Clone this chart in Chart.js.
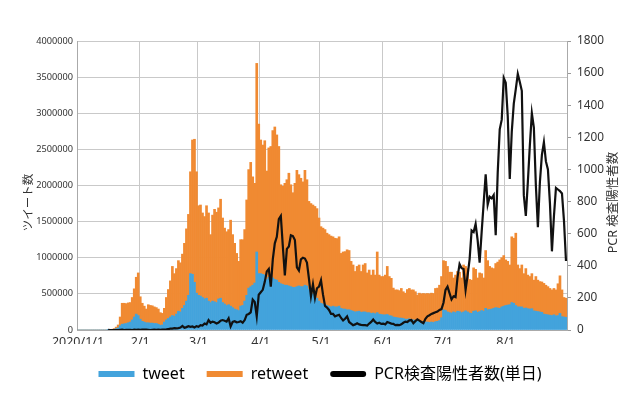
<!DOCTYPE html>
<html>
<head>
<meta charset="utf-8">
<script src="https://cdn.jsdelivr.net/npm/chart.js@4.4.1/dist/chart.umd.min.js"></script>
<style>
  html, body { margin: 0; padding: 0; background: #fff; }
</style>
</head>
<body>
<canvas id="chart" width="640" height="400"></canvas>
<script>
// days per month, Jan-Aug 2020 (leap year)
const monthDays = [31, 29, 31, 30, 31, 30, 31, 31];
const monthTickLabels = ['2020/1/1', '2/1', '3/1', '4/1', '5/1', '6/1', '7/1', '8/1'];

// daily tweets (blue)
const tweet = [
  0,0,0,0,0,0,0,0,0,0,0,0,0,0,0,1000,3000,5000,10000,20000,30000,60000,80000,85000,90000,100000,110000,140000,180000,220000,200000,
  150000,120000,110000,100000,100000,95000,95000,90000,90000,80000,65000,70000,110000,140000,160000,180000,200000,190000,220000,260000,250000,300000,340000,400000,480000,780000,770000,660000,510000,
  480000,470000,450000,430000,440000,400000,380000,400000,390000,380000,430000,440000,380000,360000,340000,350000,330000,310000,290000,280000,270000,330000,340000,400000,480000,580000,600000,620000,650000,1080000,780000,
  780000,770000,760000,700000,730000,740000,720000,700000,690000,660000,640000,630000,620000,620000,610000,600000,590000,590000,600000,610000,600000,600000,620000,610000,560000,530000,500000,470000,440000,400000,
  370000,360000,350000,340000,330000,320000,330000,320000,320000,330000,300000,290000,290000,280000,280000,270000,260000,250000,255000,260000,245000,250000,250000,240000,240000,230000,235000,225000,240000,220000,215000,
  210000,210000,215000,200000,195000,180000,175000,170000,165000,165000,160000,150000,150000,155000,145000,140000,135000,125000,120000,115000,115000,110000,110000,105000,110000,105000,115000,120000,130000,170000,
  280000,270000,250000,240000,235000,250000,240000,260000,255000,240000,250000,265000,250000,235000,230000,260000,265000,245000,255000,270000,260000,300000,280000,285000,290000,300000,310000,305000,300000,320000,330000,
  340000,345000,350000,380000,370000,340000,320000,320000,320000,300000,305000,295000,290000,295000,265000,260000,255000,250000,245000,220000,215000,210000,205000,200000,210000,195000,200000,230000,185000,180000,175000
];

// daily retweets (orange, stacked on tweets)
const retweet = [
  0,0,0,0,0,0,0,0,0,0,0,0,0,0,0,2000,3000,5000,10000,20000,40000,120000,290000,285000,275000,275000,270000,310000,390000,510000,590000,
  310000,250000,220000,190000,250000,245000,240000,230000,220000,210000,175000,160000,190000,310000,400000,500000,680000,590000,630000,700000,680000,750000,860000,1000000,1120000,1410000,1860000,1980000,1680000,
  1240000,1260000,1170000,1140000,1280000,1220000,940000,1190000,1280000,1250000,1260000,1370000,1170000,1050000,1020000,1040000,1190000,1010000,910000,780000,680000,920000,910000,990000,1320000,1640000,1720000,1500000,1380000,2610000,2070000,
  1850000,1790000,1860000,1500000,1790000,1800000,2040000,2110000,2010000,1880000,1370000,1360000,1410000,1460000,1560000,1410000,1310000,1440000,1610000,1540000,1500000,1450000,1590000,1470000,1220000,1220000,1230000,1240000,1240000,1150000,
  1060000,1050000,1040000,1000000,990000,980000,960000,950000,945000,960000,760000,790000,795000,830000,820000,680000,640000,560000,625000,640000,565000,650000,670000,550000,590000,530000,595000,535000,840000,540000,525000,
  530000,550000,665000,540000,520000,400000,380000,385000,380000,410000,370000,360000,410000,420000,410000,415000,395000,360000,390000,385000,390000,390000,395000,395000,400000,400000,460000,460000,490000,570000,
  680000,680000,630000,560000,565000,470000,520000,550000,545000,480000,650000,615000,600000,465000,460000,600000,575000,475000,535000,510000,460000,800000,680000,595000,570000,550000,610000,635000,670000,680000,700000,
  630000,605000,550000,910000,900000,1000000,580000,530000,580000,480000,545000,465000,450000,485000,425000,480000,435000,420000,420000,425000,405000,390000,370000,355000,365000,360000,440000,520000,370000,270000,265000
];

// daily PCR positives (right axis)
const pcrPositive = [
  null,null,null,null,null,null,null,null,null,null,null,null,null,null,null,1,0,0,0,0,0,1,2,0,1,1,1,0,2,1,2,
  1,2,3,2,1,0,1,2,1,3,1,2,3,4,6,8,9,12,10,12,15,25,14,18,24,20,22,16,24,
  20,30,28,40,35,62,45,52,48,40,46,58,62,58,52,73,22,50,55,48,50,55,45,62,95,100,110,190,175,85,220,
  235,250,300,365,380,270,440,540,580,690,710,520,340,505,520,590,585,560,390,370,440,450,445,420,320,210,285,200,260,270,
  310,220,150,140,125,100,100,85,90,95,75,60,70,85,50,40,30,35,42,35,32,30,30,28,40,50,65,50,40,45,38,
  40,35,50,45,40,38,30,32,30,35,45,52,50,60,62,42,55,66,58,50,42,70,85,92,100,105,110,115,125,130,
  170,250,270,230,190,210,205,330,410,385,380,250,340,440,620,610,660,560,420,610,790,970,780,830,820,840,590,980,1250,1310,1570,
  1540,1330,940,1236,1410,1500,1595,1545,1490,840,710,920,1150,1350,1260,900,640,920,1090,1170,1050,1000,790,490,710,885,875,865,850,680,430
];

const days = [];
const monthStart = {};
monthDays.forEach((n, m) => {
  monthStart[days.length] = monthTickLabels[m];
  for (let d = 1; d <= n; d++) days.push(`2020/${m + 1}/${d}`);
});

const blue = '#43a3dc';
const orange = '#f08a32';
const gridColor = '#c9c9c9';
const fontStack = "'Noto Sans', 'Noto Sans CJK JP', sans-serif";

Chart.defaults.font.family = fontStack;
Chart.defaults.color = '#333';

// axis titles drawn by hand so both read bottom-to-top
const axisTitles = {
  id: 'axisTitles',
  afterDraw(chart) {
    const { ctx, chartArea } = chart;
    const mid = (chartArea.top + chartArea.bottom) / 2 + 17;
    ctx.save();
    ctx.fillStyle = '#333';
    ctx.textAlign = 'center';
    ctx.textBaseline = 'middle';
    ctx.font = "11.5px 'Noto Sans CJK JP'";
    ctx.translate(28, mid);
    ctx.rotate(-Math.PI / 2);
    ctx.fillText('ツイート数', 0, 0);
    ctx.restore();

    ctx.save();
    ctx.fillStyle = '#333';
    ctx.textAlign = 'center';
    ctx.textBaseline = 'middle';
    ctx.font = "12.5px " + fontStack;
    ctx.translate(chartArea.right + 46, mid);
    ctx.rotate(-Math.PI / 2);
    ctx.fillText('PCR 検査陽性者数', 0, 0);
    ctx.restore();
  }
};

new Chart(document.getElementById('chart'), {
  type: 'bar',
  data: {
    labels: days,
    datasets: [
      {
        label: 'tweet',
        data: tweet,
        backgroundColor: blue,
        yAxisID: 'y',
        order: 1,
        barPercentage: 1,
        categoryPercentage: 1,
        borderWidth: 0
      },
      {
        label: 'retweet',
        data: retweet,
        backgroundColor: orange,
        yAxisID: 'y',
        order: 1,
        barPercentage: 1,
        categoryPercentage: 1,
        borderWidth: 0
      },
      {
        type: 'line',
        label: 'PCR検査陽性者数(単日)',
        data: pcrPositive,
        borderColor: '#111',
        backgroundColor: '#111',
        borderWidth: 2.2,
        pointRadius: 0,
        tension: 0,
        yAxisID: 'y1',
        order: 0
      }
    ]
  },
  options: {
    responsive: false,
    animation: false,
    layout: { padding: { top: 41, left: 0, right: 0, bottom: 8 } },
    plugins: {
      tooltip: { enabled: false },
      legend: {
        position: 'bottom',
        labels: {
          boxWidth: 36,
          boxHeight: 6,
          padding: 22,
          color: '#222',
          font: { size: 16 },
          useBorderRadius: true,
          generateLabels: chart => chart.data.datasets.map((ds, i) => ({
            text: ds.label,
            fillStyle: i === 2 ? '#000' : ds.backgroundColor,
            strokeStyle: 'rgba(0,0,0,0)',
            lineWidth: 0,
            borderRadius: i === 2 ? 3 : 0,
            datasetIndex: i,
            hidden: false
          }))
        }
      }
    },
    scales: {
      x: {
        stacked: true,
        offset: true,
        grid: {
          offset: true,
          drawTicks: false,
          color: c => monthStart[c.index] !== undefined ? gridColor : 'rgba(0,0,0,0)'
        },
        border: { color: '#aaa' },
        ticks: {
          autoSkip: false,
          maxRotation: 0,
          minRotation: 0,
          padding: 5,
          color: '#333',
          font: { size: 12.5 },
          callback: (v, i) => monthStart[i] !== undefined ? monthStart[i] : ''
        },
        afterFit: s => { s.height = 400 - 330 - 8 - (s.chart.legend ? s.chart.legend.height : 48); }
      },
      y: {
        stacked: true,
        position: 'left',
        min: 0,
        max: 4000000,
        grid: { color: gridColor, drawTicks: false },
        border: { color: '#aaa' },
        ticks: {
          stepSize: 500000,
          padding: 4,
          color: '#333',
          font: { size: 9.2 },
          callback: v => String(v)
        },
        afterFit: s => { s.width = 77; }
      },
      y1: {
        position: 'right',
        min: 0,
        max: 1800,
        grid: { drawOnChartArea: false, tickLength: 4, color: '#999' },
        border: { color: '#aaa' },
        ticks: {
          stepSize: 200,
          padding: 6,
          color: '#333',
          font: { size: 11.8 },
          callback: v => String(v)
        },
        afterFit: s => { s.width = 73; }
      }
    }
  },
  plugins: [axisTitles]
});
</script>
</body>
</html>
